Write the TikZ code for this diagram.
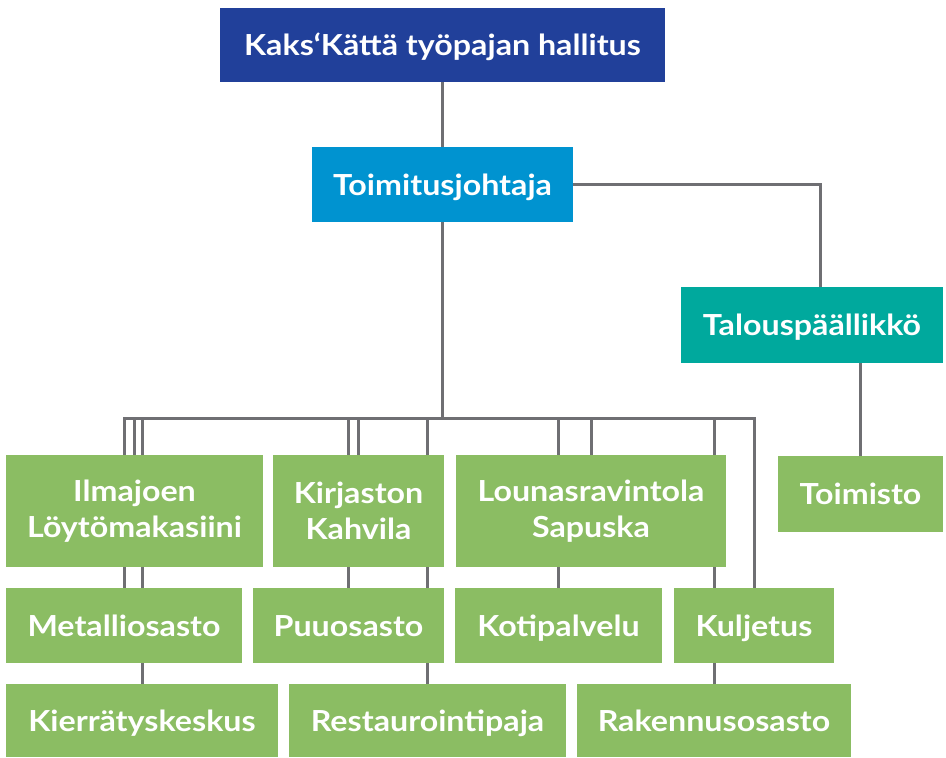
\documentclass[tikz,border=0pt]{standalone}
\usepackage{fontspec}
\setmainfont{Lato}[UprightFont=* Bold, FakeStretch=1.11]
\usetikzlibrary{backgrounds}
\definecolor{hallblue}{HTML}{21409A}
\definecolor{ceoblue}{HTML}{0093D0}
\definecolor{cfoteal}{HTML}{00A99D}
\definecolor{unitgreen}{HTML}{8BBD63}
\definecolor{linegray}{HTML}{6F6F73}
\newcommand{\orgbox}[7]{%
  \node[orgnode, fill=#6, minimum width={(#4)-(#2)}, minimum height={(#5)-(#3)}]
    (#1) at ({((#2)+(#4))/2},{((#3)+(#5))/2}) {#7};}
\tikzset{
  orgnode/.style={rectangle, inner sep=0pt, text=white, align=center,
    font=\fontsize{29}{36}\selectfont},
  oneline/.style={text height=21pt, text depth=0pt},
  conn/.style={draw=linegray, line width=3pt}
}
\begin{document}
\begin{tikzpicture}[x=1pt,y=-1pt]
\useasboundingbox (0,0) rectangle (946,758);
\orgbox{hall}{220}{8}{665}{82}{hallblue, oneline}{Kaks‘Kättä työpajan hallitus}
\orgbox{toim}{312}{147}{573}{222}{ceoblue, oneline}{Toimitusjohtaja}
\orgbox{talous}{681}{287}{943}{363}{cfoteal, oneline}{Talouspäällikkö}
\orgbox{toimisto}{778}{456}{943}{532}{unitgreen, oneline}{Toimisto}
\orgbox{ilma}{6}{455}{263}{567}{unitgreen}{Ilmajoen\\Löytömakasiini}
\orgbox{kirj}{273}{455}{444}{567}{unitgreen}{Kirjaston\\Kahvila}
\orgbox{loun}{456}{455}{726}{567}{unitgreen}{Lounasravintola\\Sapuska}
\orgbox{metal}{6}{588}{242}{663}{unitgreen, oneline}{Metalliosasto}
\orgbox{puu}{253}{588}{444}{663}{unitgreen, oneline}{Puuosasto}
\orgbox{koti}{455}{588}{662}{663}{unitgreen, oneline}{Kotipalvelu}
\orgbox{kulj}{674}{588}{834}{663}{unitgreen, oneline}{Kuljetus}
\orgbox{kierr}{6}{684}{278}{757}{unitgreen, oneline}{Kierrätyskeskus}
\orgbox{rest}{289}{684}{566}{757}{unitgreen, oneline}{Restaurointipaja}
\orgbox{rak}{577}{684}{851}{757}{unitgreen, oneline}{Rakennusosasto}
\coordinate (bus) at (443,418);
\begin{pgfonlayer}{background}
\fill[white] (0,0) rectangle (946,758);
\draw[conn] (hall) -- (toim);
\draw[conn] (toim.east) -| ([xshift=8pt]talous.north);
\draw[conn] (talous.south -| toimisto.north) -- (toimisto.north);
\draw[conn] (toim.south) -- (toim.south |- bus);
\draw[conn, line cap=rect] (metal.north |- bus) -- (kulj.north |- bus);
\foreach \n in {metal,ilma,kierr,puu,kirj,rest,koti,loun,rak,kulj}
  \draw[conn] (\n.north |- bus) -- (\n.north);
\end{pgfonlayer}
\end{tikzpicture}
\end{document}
